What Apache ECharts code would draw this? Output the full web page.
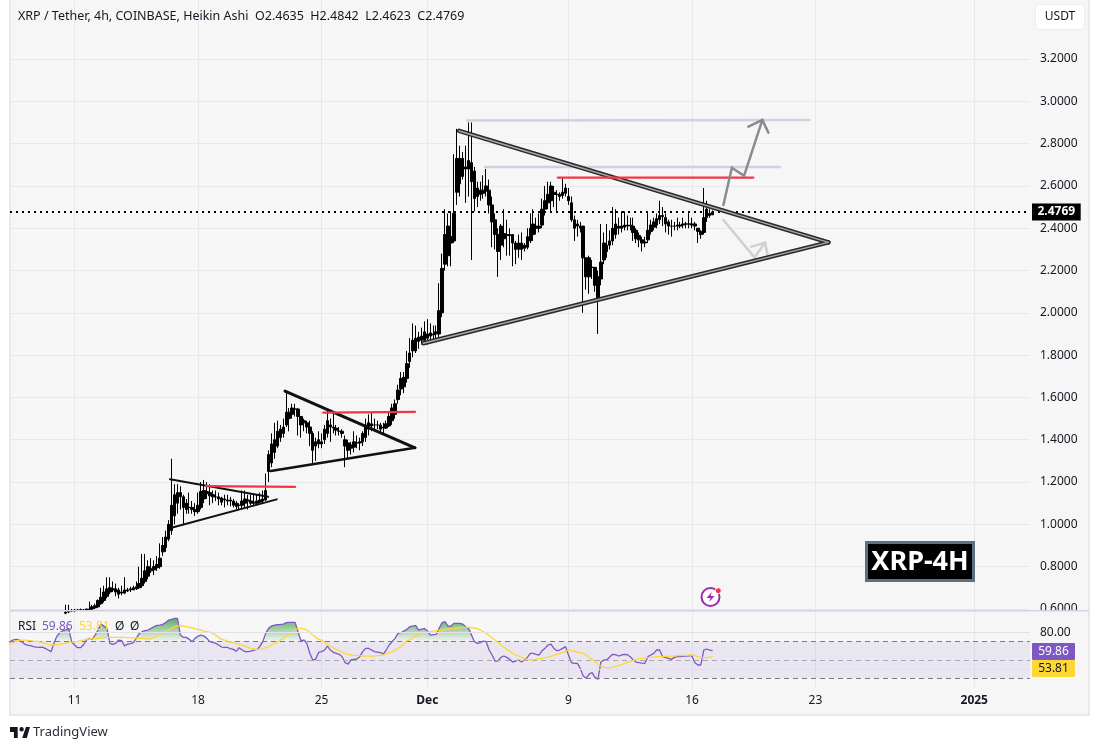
<!DOCTYPE html>
<html>
<head>
<meta charset="utf-8">
<title>XRP / Tether</title>
<script src="https://cdn.jsdelivr.net/npm/echarts@6/dist/echarts.min.js"></script>
<style>
  html, body { margin: 0; padding: 0; background: #fff; }
  #chart { width: 1099px; height: 750px; }
</style>
</head>
<body>
<div id="chart"></div>
<script>
// x axis is in days counted from 11 Nov, one bar = 4h. each row below is one day (6 bars)
const candleStartDay = -1;
const candleOpen = [
  .565,.57,.57,.58,.585,.59,
  .59,.593,.595,.595,.595,.598,
  .60,.605,.61,.625,.64,.66,
  .68,.69,.695,.69,.675,.675,
  .685,.69,.69,.695,.70,.71,
  .73,.755,.78,.785,.795,.80,
  .87,.89,.93,.97,1.04,1.10,
  1.15,1.13,1.10,1.08,1.08,1.07,
  1.06,1.08,1.12,1.155,1.15,1.14,
  1.13,1.13,1.125,1.115,1.11,1.115,
  1.11,1.10,1.09,1.09,1.10,1.115,
  1.11,1.10,1.10,1.105,1.11,1.115,
  1.25,1.29,1.34,1.37,1.41,1.43,
  1.47,1.50,1.52,1.545,1.545,1.51,
  1.49,1.48,1.46,1.43,1.39,1.38,
  1.38,1.40,1.43,1.47,1.46,1.455,
  1.44,1.44,1.40,1.385,1.36,1.365,
  1.385,1.385,1.39,1.41,1.45,1.465,
  1.47,1.47,1.47,1.455,1.455,1.465,
  1.49,1.52,1.59,1.64,1.65,1.69,
  1.77,1.82,1.82,1.865,1.87,1.87,
  1.88,1.89,1.895,1.90,1.90,2.00,
  2.23,2.27,2.33,2.34,2.57,2.61,
  2.645,2.68,2.68,2.71,2.67,2.59,
  2.56,2.565,2.575,2.58,2.51,2.44,
  2.37,2.32,2.35,2.365,2.365,2.37,
  2.33,2.30,2.33,2.305,2.31,2.34,
  2.37,2.41,2.40,2.415,2.49,2.52,
  2.53,2.57,2.56,2.56,2.555,2.565,
  2.55,2.52,2.44,2.42,2.40,2.41,
  2.26,2.17,2.215,2.215,2.17,2.16,
  2.25,2.29,2.32,2.34,2.37,2.40,
  2.41,2.405,2.41,2.415,2.41,2.39,
  2.365,2.345,2.33,2.345,2.385,2.405,
  2.415,2.44,2.46,2.45,2.43,2.41,
  2.41,2.41,2.41,2.415,2.42,2.42,
  2.415,2.42,2.40,2.385,2.38,2.45,
  2.47,2.4635
];
const candleClose = [
  .57,.575,.58,.585,.59,.59,
  .595,.595,.596,.595,.60,.60,
  .61,.615,.64,.655,.68,.695,
  .70,.695,.68,.67,.68,.69,
  .69,.695,.70,.705,.72,.745,
  .78,.80,.79,.80,.81,.84,
  .90,.94,1.00,1.09,1.14,1.15,
  1.13,1.08,1.07,1.08,1.07,1.06,
  1.09,1.155,1.16,1.145,1.135,1.13,
  1.13,1.12,1.105,1.12,1.115,1.11,
  1.09,1.085,1.09,1.11,1.12,1.11,
  1.10,1.105,1.11,1.115,1.12,1.16,
  1.33,1.38,1.40,1.44,1.45,1.46,
  1.53,1.53,1.55,1.545,1.51,1.47,
  1.48,1.46,1.43,1.35,1.37,1.40,
  1.39,1.45,1.49,1.46,1.455,1.445,
  1.44,1.43,1.37,1.35,1.375,1.39,
  1.385,1.39,1.43,1.47,1.48,1.475,
  1.47,1.47,1.45,1.46,1.475,1.51,
  1.55,1.57,1.635,1.69,1.695,1.76,
  1.81,1.87,1.88,1.885,1.89,1.91,
  1.90,1.905,1.90,1.91,2.01,2.21,
  2.37,2.41,2.36,2.47,2.73,2.73,
  2.73,2.69,2.72,2.62,2.54,2.55,
  2.58,2.58,2.60,2.51,2.43,2.37,
  2.29,2.41,2.375,2.37,2.37,2.33,
  2.30,2.33,2.30,2.32,2.36,2.40,
  2.42,2.40,2.41,2.49,2.53,2.56,
  2.60,2.56,2.56,2.55,2.57,2.59,
  2.53,2.44,2.40,2.41,2.41,2.26,
  2.17,2.26,2.215,2.13,2.06,2.24,
  2.33,2.32,2.34,2.40,2.42,2.41,
  2.40,2.415,2.415,2.41,2.38,2.35,
  2.345,2.33,2.335,2.39,2.415,2.43,
  2.445,2.46,2.455,2.42,2.41,2.41,
  2.41,2.415,2.415,2.42,2.42,2.42,
  2.42,2.41,2.385,2.37,2.45,2.49,
  2.46,2.4769
];
const candleLow = [
  .56,.56,.57,.575,.58,.585,
  .585,.59,.59,.59,.59,.595,
  .595,.60,.605,.62,.63,.65,
  .67,.68,.66,.65,.665,.67,
  .68,.68,.69,.69,.695,.70,
  .72,.74,.77,.76,.78,.79,
  .85,.87,.92,.95,1.00,1.05,
  1.07,1.00,1.05,1.05,1.05,1.04,
  1.05,1.07,1.10,1.12,1.09,1.10,
  1.11,1.09,1.09,1.08,1.09,1.085,
  1.08,1.07,1.07,1.07,1.08,1.07,
  1.09,1.09,1.09,1.10,1.10,1.11,
  1.20,1.27,1.31,1.36,1.39,1.41,
  1.46,1.44,1.50,1.51,1.42,1.41,
  1.44,1.43,1.37,1.29,1.30,1.36,
  1.36,1.38,1.41,1.39,1.43,1.42,
  1.42,1.41,1.27,1.31,1.33,1.34,
  1.36,1.35,1.37,1.39,1.42,1.44,
  1.45,1.45,1.43,1.43,1.45,1.46,
  1.47,1.50,1.57,1.61,1.62,1.67,
  1.74,1.79,1.81,1.83,1.85,1.86,
  1.85,1.86,1.87,1.88,1.88,1.98,
  2.20,2.22,2.22,2.33,2.51,2.55,
  2.63,2.52,2.55,2.25,2.48,2.50,
  2.53,2.54,2.55,2.47,2.31,2.30,
  2.17,2.25,2.31,2.27,2.27,2.22,
  2.23,2.26,2.25,2.29,2.30,2.33,
  2.34,2.37,2.38,2.40,2.46,2.49,
  2.48,2.50,2.48,2.53,2.54,2.55,
  2.51,2.43,2.34,2.36,2.38,2.00,
  2.11,2.09,2.16,2.10,1.90,2.13,
  2.23,2.26,2.30,2.32,2.35,2.37,
  2.38,2.39,2.39,2.39,2.34,2.33,
  2.31,2.29,2.31,2.33,2.37,2.39,
  2.40,2.42,2.41,2.38,2.37,2.36,
  2.39,2.39,2.40,2.40,2.40,2.40,
  2.40,2.39,2.33,2.35,2.37,2.43,
  2.45,2.4623
];
const candleHigh = [
  .58,.58,.59,.62,.62,.60,
  .60,.60,.602,.60,.60,.635,
  .62,.625,.645,.70,.71,.75,
  .75,.73,.72,.70,.71,.75,
  .70,.705,.71,.73,.80,.86,
  .86,.83,.84,.83,.85,.91,
  .94,.97,1.02,1.31,1.19,1.19,
  1.18,1.14,1.12,1.15,1.11,1.10,
  1.15,1.20,1.21,1.20,1.19,1.16,
  1.16,1.15,1.13,1.14,1.14,1.13,
  1.12,1.11,1.10,1.16,1.16,1.14,
  1.14,1.14,1.14,1.15,1.16,1.24,
  1.35,1.43,1.48,1.49,1.47,1.50,
  1.625,1.55,1.57,1.57,1.55,1.51,
  1.50,1.49,1.49,1.44,1.41,1.44,
  1.43,1.47,1.54,1.50,1.53,1.47,
  1.46,1.45,1.42,1.40,1.39,1.44,
  1.42,1.41,1.44,1.50,1.52,1.53,
  1.50,1.49,1.48,1.48,1.49,1.53,
  1.57,1.59,1.66,1.72,1.72,1.82,
  1.88,1.95,1.94,1.91,1.93,1.96,
  1.97,1.95,1.94,1.94,2.14,2.28,
  2.49,2.47,2.48,2.75,2.87,2.79,
  2.76,2.79,2.90,2.90,2.69,2.62,
  2.62,2.65,2.68,2.63,2.55,2.47,
  2.40,2.42,2.49,2.44,2.40,2.37,
  2.34,2.37,2.38,2.33,2.40,2.47,
  2.49,2.45,2.47,2.54,2.60,2.62,
  2.62,2.60,2.58,2.57,2.64,2.61,
  2.59,2.55,2.46,2.44,2.43,2.41,
  2.26,2.27,2.25,2.21,2.20,2.42,
  2.38,2.42,2.39,2.50,2.49,2.45,
  2.48,2.48,2.46,2.45,2.45,2.40,
  2.38,2.36,2.36,2.48,2.44,2.45,
  2.47,2.53,2.50,2.47,2.44,2.44,
  2.43,2.45,2.43,2.45,2.43,2.48,
  2.45,2.43,2.40,2.39,2.59,2.53,
  2.49,2.4842
];

// RSI starts further left than the visible candles
const rsiStartDay = -4;
const rsiValues = [
  68.5,68.5,69.6,71.4,72.1,71.8,
  69.6,67,66,65.3,64.2,63.8,
  63.5,63.8,62.4,60.6,58.8,67.8,
  75.7,79.3,81.5,82.2,84,69.6,
  66,63.1,63.1,66,71.4,73.2,
  72.1,76.8,82.2,88.7,86.5,84,
  67.8,66.7,67.8,71.4,70.7,64.9,
  67,67.4,68.5,73.2,78.6,80.4,
  81.5,82.2,84,85.8,87.2,87.6,
  88.3,90.2,93,93.7,94.8,94.8,
  76.8,74.3,74.3,72.1,69.6,73.2,
  75.7,76.8,75.7,73.2,69.6,68.9,
  67.8,66,63.8,63.5,63.5,62,
  61.3,59.2,63.1,60.6,58.8,58.8,
  59.5,60.6,61.3,64.2,69.6,78.6,
  84,86.5,87.6,88,88.3,88.7,
  90.2,90.5,90.5,90.5,80.4,70.7,
  71.4,67.8,57,49.8,50.5,58,
  58.8,60.6,64.9,60.6,58.1,57,
  55.9,53.4,46.9,45.4,49.8,50.5,
  50.9,53.4,58.8,62.4,62.4,60.6,
  58.8,58.4,57.7,56.3,60.6,66,
  69.6,73.2,78.6,79.3,81.1,82.9,
  85.8,86.5,87.2,82.2,83.3,83.7,
  81.5,76.8,77.2,77.5,84,90.2,
  91.2,86.5,86.5,89.4,89.4,89.4,
  88.7,85.8,84,76.8,69.6,67.8,
  68.5,70.3,69.6,60.6,55.2,48.7,
  48.7,52.6,54.1,52.6,50.5,47.6,
  48.7,49.8,47.6,49.8,52.6,57,
  57,55.9,55.2,59.9,62.4,66,
  67,62.4,59.9,60.6,62.4,64.2,
  55.2,46.9,46.2,46.2,40.8,32.5,
  30,34.6,36.1,31,28.9,47.3,
  49.8,49.8,53,56,55.6,54.1,
  55.2,55.9,55.5,53.4,49.8,47.6,
  46.9,46.5,46.2,53.4,55.2,57,
  60.6,60.6,53.4,52.3,51.6,50.5,
  52.6,53.4,53.4,54.1,54.1,54.5,
  54.1,46.9,44.4,44.4,60.6,61.7,
  60.6,59.86
];
const rsiMaValues = [
  66,66.7,67,68.5,70,71,
  71.4,71.4,71,70.7,70.3,70,
  69.6,68.5,67.4,66.7,66,66,
  66.4,66.7,67.4,68.2,68.9,69.2,
  69.6,70,70.7,71.4,72.1,72.5,
  72.8,72.8,73.2,73.6,73.9,74.3,
  74.3,74.3,74.3,74.3,74.3,74.3,
  73.9,73.9,73.6,73.6,73.2,73.2,
  72.8,72.5,72.8,73.9,75.7,77.9,
  78.6,80.4,82.2,84,85.8,86.5,
  86.9,86.5,85.8,85.1,84.4,83.7,
  82.9,82.2,81.1,80.4,79.7,78.6,
  76.8,74.3,72.1,71.4,70.3,69.2,
  68.5,67.4,66.7,66,64.9,63.5,
  62.4,61.7,61.3,61.3,61.7,63.1,
  64.2,66,67.8,69.2,71.4,73.2,
  75.7,77.9,80.4,82.9,84,84,
  83.7,82.2,79.7,76.8,74.3,72.1,
  71.4,69.2,67,64.9,62.8,61.3,
  59.9,58.4,57,55.9,55.2,54.8,
  54.5,54.5,54.1,54.1,54.1,54.1,
  54.1,54.5,54.8,55.2,56.3,57.7,
  58.8,60.6,62.4,64.2,67,70.7,
  71.4,73.9,75.7,77.2,78.6,79.3,
  80,80.4,81.1,81.5,81.9,82.2,
  82.9,83.3,83.7,84,84.4,84.7,
  85.1,85.1,85.1,84.7,84.4,83.7,
  82.2,80.4,78.6,76.1,73.9,71.4,
  68.9,66,63.5,61.3,59.2,57,
  55.5,54.1,52.6,51.2,50.5,49.8,
  50.1,50.5,51.2,51.6,52.3,53,
  54.1,54.8,55.9,57,58,59.2,
  60.6,59.9,59.2,58.4,57.7,57,
  55.2,52.6,50.5,48,45.4,43.3,
  41.8,41.5,41.5,41.8,42.9,44,
  44.7,46.2,47.3,48.3,49.4,50.5,
  51.2,51.6,52,52.3,52.6,53,
  53.4,53.4,53.4,53.7,53.7,54.1,
  54.1,54.5,54.5,54.8,54.8,55.2,
  55.2,54.5,53.4,52.6,52.3,52.6,
  53,53.81
];

const priceTicks = [0.6, 0.8, 1.0, 1.2, 1.4, 1.6, 1.8, 2.0, 2.2, 2.4, 2.6, 2.8, 3.0, 3.2];
const dateTickDays = [0, 7, 14, 20, 28, 35, 42, 51];
const dateTickLabels = ['11', '18', '25', '{b|Dec}', '9', '16', '23', '{b|2025}'];
const lastPrice = 2.4769;
const lastRsi = 59.86;
const lastRsiMa = 53.81;

// drawings on the chart, [day, price]
const triangle1Upper = [[5.41, 1.213], [10.97, 1.130]];
const triangle1Lower = [[5.60, 0.986], [11.46, 1.118]];
const triangle2Upper = [[11.93, 1.630], [19.30, 1.362]];
const triangle2Lower = [[11.12, 1.252], [19.30, 1.362]];
const triangle3Upper = [[21.80, 2.860], [42.73, 2.333]];
const triangle3Lower = [[19.77, 1.856], [42.73, 2.333]];
const redLevels = [
  [[7.45, 1.181], [12.50, 1.177]],
  [[14.10, 1.528], [19.30, 1.532]],
  [[27.39, 2.639], [38.48, 2.639]]
];
const targetLevels = [
  [[22.25, 2.909], [41.64, 2.912]],
  [[23.27, 2.689], [39.99, 2.689]]
];
const arrowUpPath = [[36.78, 2.510], [37.26, 2.686], [37.95, 2.648], [38.99, 2.912]];
const arrowUpHead = [[38.20, 2.880], [38.99, 2.912], [39.33, 2.852]];
const arrowDownPath = [[36.78, 2.439], [38.54, 2.262], [39.14, 2.331]];
const arrowDownHead = [[38.35, 2.313], [39.14, 2.331], [39.33, 2.258]];

const dayMin = -3.66;
const dayMax = 54.16;
const fontName = '"Noto Sans", sans-serif';
const gridColor = '#e8e8ec';
const textColor = '#131722';

function drawing(points, color, width, z) {
  return {
    type: 'line',
    data: points,
    xAxisIndex: 0,
    yAxisIndex: 0,
    symbol: 'none',
    silent: true,
    z: z || 5,
    lineStyle: { color: color, width: width, cap: 'round', join: 'miter' }
  };
}

let candleData = candleOpen.map((o, i) => [candleStartDay + i / 6, o, candleClose[i], candleLow[i], candleHigh[i]]);
let rsiData = rsiValues.map((v, i) => [rsiStartDay + i / 6, v]);
let rsiMaData = rsiMaValues.map((v, i) => [rsiStartDay + i / 6, v]);

let series = [
  {
    type: 'candlestick',
    data: candleData,
    xAxisIndex: 0,
    yAxisIndex: 0,
    barWidth: 3,
    z: 3,
    itemStyle: { color: '#000', color0: '#000', borderColor: '#000', borderColor0: '#000', borderWidth: 1 }
  },
  // last price dotted line + black badge
  {
    type: 'line',
    data: [[dayMin, lastPrice], [dayMax, lastPrice]],
    xAxisIndex: 0,
    yAxisIndex: 0,
    symbol: 'none',
    silent: true,
    z: 4,
    lineStyle: { color: '#000', width: 2, type: [2, 4] },
    endLabel: {
      show: true,
      formatter: lastPrice.toFixed(4),
      distance: 2,
      backgroundColor: '#000',
      color: '#fff',
      fontFamily: fontName,
      fontSize: 12,
      fontWeight: 'bold',
      padding: [3, 5.5, 2, 5.5]
    }
  },
  drawing(arrowDownPath, '#d0d0d4', 2.5, 4),
  drawing(arrowDownHead, '#d0d0d4', 2.5, 4),
  drawing(targetLevels[0], '#d0d0e0', 2.5, 4),
  drawing(targetLevels[1], '#d0d0e0', 2.5, 4),
  drawing(triangle1Upper, '#111', 2),
  drawing(triangle1Lower, '#111', 2),
  drawing(triangle2Upper, '#111', 3),
  drawing(triangle2Lower, '#111', 2.5),
  // double edged lines of the big triangle
  drawing(triangle3Upper, '#2a2a2a', 4.5),
  drawing(triangle3Upper, '#a8a8a8', 1.5, 6),
  drawing(triangle3Lower, '#2a2a2a', 4.5),
  drawing(triangle3Lower, '#a8a8a8', 1.5, 6),
  drawing(redLevels[0], '#f23645', 2.2, 7),
  drawing(redLevels[1], '#f23645', 2.2, 7),
  drawing(redLevels[2], '#f23645', 2.2, 7),
  drawing(arrowUpPath, '#8a8a90', 2.5, 7),
  drawing(arrowUpHead, '#8a8a90', 2.5, 7),
  {
    type: 'line',
    data: rsiData,
    xAxisIndex: 1,
    yAxisIndex: 1,
    symbol: 'none',
    silent: true,
    z: 4,
    lineStyle: { color: '#7e57c2', width: 1.3 },
    // gradient is in canvas pixels, it is transparent under the 70 level
    areaStyle: {
      origin: 'start',
      opacity: 1,
      color: new echarts.graphic.LinearGradient(0, 618, 0, 641.3, [
        { offset: 0, color: 'rgba(60,160,70,0.85)' },
        { offset: 0.98, color: 'rgba(60,160,70,0.04)' },
        { offset: 1, color: 'rgba(60,160,70,0)' }
      ], true)
    },
    markArea: {
      silent: true,
      itemStyle: { color: 'rgba(126,87,194,0.1)' },
      data: [[{ yAxis: 70 }, { yAxis: 30 }]]
    },
    markLine: {
      silent: true,
      symbol: 'none',
      label: { show: false },
      data: [
        { yAxis: 70, lineStyle: { color: '#787b86', type: [5, 4], width: 1 } },
        { yAxis: 50, lineStyle: { color: '#a8a8b0', type: [5, 4], width: 1 } },
        { yAxis: 30, lineStyle: { color: '#787b86', type: [5, 4], width: 1 } }
      ]
    }
  },
  {
    type: 'line',
    data: rsiMaData,
    xAxisIndex: 1,
    yAxisIndex: 1,
    symbol: 'none',
    silent: true,
    z: 5,
    lineStyle: { color: '#fdd835', width: 1.3 }
  }
];

let chart = echarts.init(document.getElementById('chart'), null, { renderer: 'canvas' });
chart.setOption({
  animation: false,
  backgroundColor: '#fff',
  textStyle: { fontFamily: fontName },
  title: {
    text: 'XRP / Tether, 4h, COINBASE, Heikin Ashi  O2.4635  H2.4842  L2.4623  C2.4769',
    left: 13,
    top: 5,
    textStyle: { color: textColor, fontSize: 12.5, fontWeight: 'normal', fontFamily: fontName }
  },
  grid: [
    { left: 10, right: 69, top: 0, height: 610 },
    { left: 10, right: 69, top: 611, height: 76 }
  ],
  xAxis: [
    {
      type: 'value',
      gridIndex: 0,
      min: dayMin,
      max: dayMax,
      axisLine: { show: false },
      axisLabel: { show: false },
      axisTick: { show: false, customValues: dateTickDays },
      splitLine: { show: true, lineStyle: { color: gridColor, width: 1 } }
    },
    {
      type: 'value',
      gridIndex: 1,
      min: dayMin,
      max: dayMax,
      axisLine: { show: false },
      axisTick: { show: false, customValues: dateTickDays },
      splitLine: { show: true, lineStyle: { color: gridColor, width: 1 } },
      axisLabel: {
        customValues: dateTickDays,
        margin: 8,
        color: textColor,
        fontSize: 12,
        fontFamily: fontName,
        formatter: v => dateTickLabels[dateTickDays.indexOf(v)],
        rich: { b: { fontWeight: 'bold', fontSize: 12, color: textColor, fontFamily: fontName } }
      }
    }
  ],
  yAxis: [
    {
      type: 'value',
      gridIndex: 0,
      position: 'right',
      min: 0.595,
      max: 3.479,
      axisLine: { show: false },
      axisTick: { show: false, customValues: priceTicks },
      splitLine: { show: true, lineStyle: { color: gridColor, width: 1 } },
      axisLabel: {
        customValues: priceTicks,
        margin: 10,
        padding: [2, 0, 0, 0],
        color: textColor,
        fontSize: 12,
        fontFamily: fontName,
        formatter: v => v.toFixed(4)
      }
    },
    {
      type: 'value',
      gridIndex: 1,
      position: 'right',
      min: 20.6,
      max: 102.8,
      z: 20,
      axisLine: { show: false },
      axisTick: { show: false, customValues: [40, 80] },
      splitLine: { show: true, lineStyle: { color: '#e2e1ea', width: 1 } },
      axisLabel: {
        customValues: [80],
        margin: 10,
        padding: [2, 0, 0, 0],
        color: textColor,
        fontSize: 12,
        fontFamily: fontName,
        formatter: v => v.toFixed(2)
      }
    }
  ],
  graphic: [
    // chart frame
    {
      type: 'rect',
      z: -10,
      silent: true,
      shape: { x: 10, y: -3, width: 1079, height: 718 },
      style: { fill: '#f6f6f6', stroke: '#e8e8f0', lineWidth: 2 }
    },
    // cuts the 0.6000 label like the pane border does, plus the pane border itself
    {
      type: 'rect',
      z: 10,
      silent: true,
      shape: { x: 1031, y: 610, width: 57, height: 10 },
      style: { fill: '#f6f6f6' }
    },
    {
      type: 'rect',
      z: 11,
      silent: true,
      shape: { x: 10, y: 610, width: 1079, height: 1.5 },
      style: { fill: '#d3cfe5' }
    },
    // USDT button
    {
      type: 'rect',
      silent: true,
      shape: { x: 1035.5, y: 4.5, width: 49, height: 25, r: 4 },
      style: { fill: '#fff', stroke: '#ebebf0', lineWidth: 1 }
    },
    {
      type: 'text',
      silent: true,
      x: 1060,
      y: 17,
      style: { text: 'USDT', fill: textColor, font: '12px ' + fontName, textAlign: 'center', textVerticalAlign: 'middle' }
    },
    // RSI legend
    {
      type: 'text', silent: true, z: 12, x: 18, y: 627,
      style: { text: 'RSI', fill: textColor, font: '12px ' + fontName, textVerticalAlign: 'middle' }
    },
    {
      type: 'text', silent: true, z: 12, x: 42, y: 627,
      style: { text: lastRsi.toFixed(2), fill: '#7e57c2', font: '12px ' + fontName, textVerticalAlign: 'middle' }
    },
    {
      type: 'text', silent: true, z: 12, x: 79, y: 627,
      style: { text: lastRsiMa.toFixed(2), fill: '#fdd835', font: '12px ' + fontName, textVerticalAlign: 'middle' }
    },
    {
      type: 'text', silent: true, z: 12, x: 115, y: 627,
      style: { text: '\u00d8', fill: textColor, font: '12px ' + fontName, textVerticalAlign: 'middle' }
    },
    {
      type: 'text', silent: true, z: 12, x: 130, y: 627,
      style: { text: '\u00d8', fill: textColor, font: '12px ' + fontName, textVerticalAlign: 'middle' }
    },
    // RSI badges
    {
      type: 'rect', silent: true, z: 12,
      shape: { x: 1032, y: 643, width: 43, height: 17, r: 1 },
      style: { fill: '#7e57c2' }
    },
    {
      type: 'text', silent: true, z: 13, x: 1053.5, y: 652,
      style: { text: lastRsi.toFixed(2), fill: '#fff', font: '12px ' + fontName, textAlign: 'center', textVerticalAlign: 'middle' }
    },
    {
      type: 'rect', silent: true, z: 12,
      shape: { x: 1032, y: 660, width: 43, height: 17, r: 1 },
      style: { fill: '#fdd835' }
    },
    {
      type: 'text', silent: true, z: 13, x: 1053.5, y: 669,
      style: { text: lastRsiMa.toFixed(2), fill: textColor, font: '12px ' + fontName, textAlign: 'center', textVerticalAlign: 'middle' }
    },
    // XRP-4H box
    {
      type: 'rect', silent: true, z: 12,
      shape: { x: 866.5, y: 542.5, width: 107, height: 38 },
      style: { fill: '#000', stroke: '#5b7085', lineWidth: 3 }
    },
    {
      type: 'text', silent: true, z: 13, x: 920, y: 562,
      style: { text: 'XRP-4H', fill: '#fff', font: 'bold 27px ' + fontName, textAlign: 'center', textVerticalAlign: 'middle' }
    },
    // news flash icon
    {
      type: 'circle', silent: true, z: 12,
      shape: { cx: 710.5, cy: 597, r: 9 },
      style: { fill: '#fff', stroke: '#9c27b0', lineWidth: 2 }
    },
    {
      type: 'polygon', silent: true, z: 13,
      shape: { points: [[711.8, 592], [706.5, 598], [710.5, 598], [709.2, 602], [714.5, 596], [710.5, 596]] },
      style: { fill: '#9c27b0' }
    },
    {
      type: 'circle', silent: true, z: 14,
      shape: { cx: 718.3, cy: 590.7, r: 3 },
      style: { fill: '#f23645', stroke: '#fff', lineWidth: 1 }
    },
    // TradingView mark
    {
      type: 'polygon', silent: true,
      shape: { points: [[10, 727], [17.7, 727], [17.7, 738], [13.9, 738], [13.9, 732.1], [10, 732.1]] },
      style: { fill: '#131722' }
    },
    {
      type: 'polygon', silent: true,
      shape: { points: [[22.2, 738], [25.9, 727], [30, 727], [26.8, 738]] },
      style: { fill: '#131722' }
    },
    {
      type: 'circle', silent: true,
      shape: { cx: 21.6, cy: 729.2, r: 2.2 },
      style: { fill: '#131722' }
    },
    {
      type: 'text', silent: true, x: 33, y: 732.5,
      style: { text: 'TradingView', fill: '#2a2e39', font: '13px ' + fontName, textVerticalAlign: 'middle' }
    }
  ],
  series: series
});
</script>
</body>
</html>
